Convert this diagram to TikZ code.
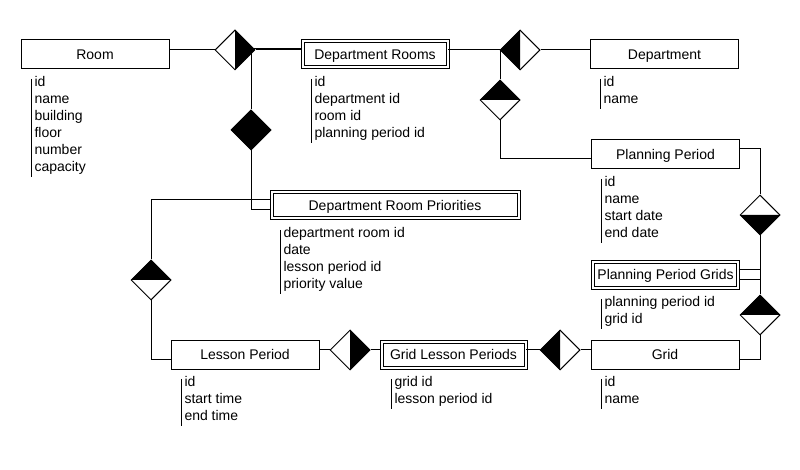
\documentclass[tikz,border=0pt]{standalone}
\usepackage{fontspec}
\setmainfont{Liberation Sans}
\usetikzlibrary{shapes.geometric}

\newcommand{\erfont}{\fontsize{10.5pt}{12.75pt}\selectfont}
\newcommand{\attrlist}[1]{\begin{tabular}{@{}l@{}}#1\end{tabular}}

\tikzset{
  entity/.style={draw, minimum width=111pt, minimum height=21.75pt, inner sep=0pt, text height=7.2pt, text depth=0pt, font=\erfont},
  weak/.style={entity, double, double distance=1.5pt, minimum width=108.75pt, minimum height=19.5pt},
  attrs/.style={anchor=north west, inner xsep=2.25pt, inner ysep=0pt, font=\erfont},
  rel/.style={draw, diamond, minimum width=30pt, minimum height=30pt, inner sep=0pt, fill=white},
  relR/.style={rel, path picture={\fill[black] (path picture bounding box.north) -- (path picture bounding box.east) -- (path picture bounding box.south) -- cycle;}},
  relL/.style={rel, path picture={\fill[black] (path picture bounding box.north) -- (path picture bounding box.west) -- (path picture bounding box.south) -- cycle;}},
  relT/.style={rel, path picture={\fill[black] (path picture bounding box.west) -- (path picture bounding box.north) -- (path picture bounding box.east) -- cycle;}},
  relB/.style={rel, path picture={\fill[black] (path picture bounding box.west) -- (path picture bounding box.south) -- (path picture bounding box.east) -- cycle;}},
  relF/.style={rel, fill=black}
}

\begin{document}
\begin{tikzpicture}[x=0.75pt,y=0.75pt,yscale=-1,xscale=1,line width=0.75pt]
        \useasboundingbox (0,0) rectangle (800,470);

        % Entities
        \node[entity] (room) at (95,54.5) {Room};
        \node[weak] (dr) at (375,54.5) {Department Rooms};
        \node[entity] (dept) at (664.5,54.5) {Department};
        \node[entity] (pp) at (665.5,154.5) {Planning Period};
        \node[weak, minimum width=185.25pt] (drp) at (395,205.5) {Department Room Priorities};
        \node[weak] (ppg) at (665.5,275) {Planning Period Grids};
        \node[entity] (lp) at (245,355) {Lesson Period};
        \node[weak, minimum width=108pt] (glp) at (453.5,355) {Grid Lesson Periods};
        \node[entity] (grid) at (665,355) {Grid};

        % Attributes
        \node[attrs] (roomA) at (31,74) {\attrlist{id\\name\\building\\floor\\number\\capacity}};
        \node[attrs] (drA) at (311,74) {\attrlist{id\\department id\\room id\\planning period id}};
        \node[attrs] (deptA) at (600,74) {\attrlist{id\\name}};
        \node[attrs] (ppA) at (601,174) {\attrlist{id\\name\\start date\\end date}};
        \node[attrs] (drpA) at (280,225) {\attrlist{department room id\\date\\lesson period id\\priority value}};
        \node[attrs] (ppgA) at (601,294) {\attrlist{planning period id\\grid id}};
        \node[attrs] (lpA) at (181,374) {\attrlist{id\\start time\\end time}};
        \node[attrs] (glpA) at (391,374) {\attrlist{grid id\\lesson period id}};
        \node[attrs] (gridA) at (601,374) {\attrlist{id\\name}};
        \foreach \a in {roomA,drA,deptA,ppA,drpA,ppgA,lpA,glpA,gridA}
          \draw ([yshift=3.75pt]\a.north west) -- (\a.south west);

        % Relationships
        \node[relR] (d1) at (235,50) {};
        \node[relL] (d2) at (520,50) {};
        \node[relT] (d3) at (500,100) {};
        \node[relB] (d4) at (760,215) {};
        \node[relT] (d5) at (760,315) {};
        \node[relT] (d6) at (151,280) {};
        \node[relR] (d7) at (350,350) {};
        \node[relL] (d8) at (560,350) {};
        \node[relF] (d9) at (251,130) {};

        % Links
        \draw (d1.west) -- (d1.west -| room.east);
        \draw (d1.east) -- (d1.east -| dr.west);
        \draw ([yshift=-4.125pt]dr.west) -| (d9.north);
        \draw (d9.south) |- ([yshift=3.375pt]drp.west);
        \draw (dr.east |- d2.west) -- (d2.west);
        \draw (d2.east) -- (d2.east -| dept.west);
        \draw (d3.north |- d2.west) -- (d3.north);
        \draw (d3.south) |- ([yshift=3.375pt]pp.west);
        \draw ([yshift=-4.125pt]pp.east) -| (d4.north);
        \draw (d4.south) |- ([yshift=3.375pt]ppg.east);
        \draw ([yshift=-4.125pt]ppg.east) -| (d5.north);
        \draw (d5.south) |- ([yshift=3.375pt]grid.east);
        \draw (d8.east) -- (d8.east -| grid.west);
        \draw (d8.west) -- (d8.west -| glp.east);
        \draw (d7.east) -- (d7.east -| glp.west);
        \draw (d7.west) -- (d7.west -| lp.east);
        \draw ([yshift=3.375pt]lp.west) -| (d6.south);
        \draw (d6.north) |- ([yshift=-4.125pt]drp.west);
\end{tikzpicture}
\end{document}
